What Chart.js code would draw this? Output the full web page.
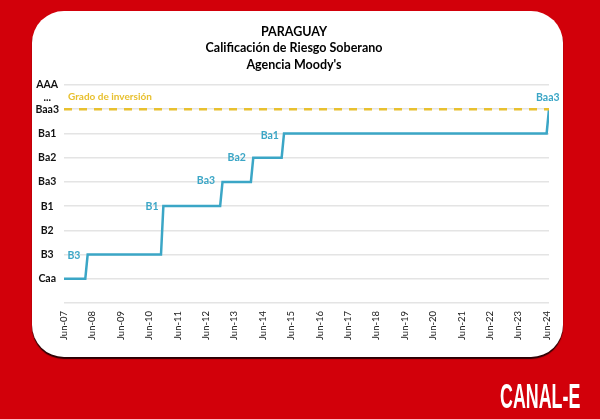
<!DOCTYPE html>
<html>
<head>
<meta charset="utf-8">
<title>Paraguay</title>
<script src="https://cdn.jsdelivr.net/npm/chart.js@4"></script>
<style>
  html, body { margin: 0; padding: 0; width: 600px; height: 419px; overflow: hidden; background: #d2000a; }
  .card { position: absolute; left: 32px; top: 11px; width: 531px; height: 346px; background: #fff; border-radius: 32px; box-shadow: 0 2px 1px #2a0004; }
  canvas { position: absolute; left: 0; top: 0; }
  .brand { position: absolute; left: 500px; top: 376px; color: #fff; font: bold 35px/40px "Liberation Sans", sans-serif; transform-origin: left top; transform: scaleX(0.51); white-space: nowrap; }
</style>
</head>
<body>
<div class="card"></div>
<canvas id="chart" width="588" height="419"></canvas>
<div class="brand">CANAL-E</div>
<script>
const titleLines = ['PARAGUAY', 'Calificación de Riesgo Soberano', "Agencia Moody's"];

// months since Jun-07 and rating level (Caa = 1 ... Baa3 = 8)
const months = [0, 9, 10, 41, 42, 66, 67, 79, 80, 92, 93, 204, 205];
const ratings = [1, 1, 2, 2, 4, 4, 5, 5, 6, 6, 7, 7, 8];

const investmentMonths = [0, 205];
const investmentLevel = [8, 8];

const yTickValues = [0, 1, 2, 3, 4, 5, 6, 7, 8, 8.5, 9];
const yTickLabels = ['', 'Caa', 'B3', 'B2', 'B1', 'Ba3', 'Ba2', 'Ba1', 'Baa3', '...', 'AAA'];
const xTickLabels = ['Jun-07', 'Jun-08', 'Jun-09', 'Jun-10', 'Jun-11', 'Jun-12', 'Jun-13', 'Jun-14', 'Jun-15',
  'Jun-16', 'Jun-17', 'Jun-18', 'Jun-19', 'Jun-20', 'Jun-21', 'Jun-22', 'Jun-23', 'Jun-24'];

// rating notes next to the steps
const noteTexts = ['B3', 'B1', 'Ba3', 'Ba2', 'Ba1', 'Baa3'];
const noteMonths = [4.2, 37.2, 60, 73, 87, 204.5];
const noteLevels = [1.96, 4, 5.04, 6, 6.92, 8.5];

const BLUE = '#3ba6c6';
const GOLD = '#e8c02f';
const FONT = 'Lato, "Open Sans", sans-serif';

const toPoints = (xs, ys) => xs.map((x, i) => ({ x, y: ys[i] }));

const notesPlugin = {
  id: 'notes',
  afterDatasetsDraw(chart) {
    const { ctx, scales } = chart;
    ctx.save();
    ctx.font = 'bold 10.5px ' + FONT;
    ctx.textBaseline = 'middle';
    ctx.textAlign = 'center';
    ctx.fillStyle = BLUE;
    noteTexts.forEach((text, i) => {
      ctx.fillText(text, scales.x.getPixelForValue(noteMonths[i]), scales.y.getPixelForValue(noteLevels[i]));
    });
    ctx.font = 'bold 10px ' + FONT;
    ctx.textAlign = 'left';
    ctx.fillStyle = GOLD;
    ctx.fillText('Grado de inversión', scales.x.getPixelForValue(1.7), scales.y.getPixelForValue(8.5));
    ctx.restore();
  },
};

new Chart(document.getElementById('chart'), {
  type: 'line',
  plugins: [notesPlugin],
  data: {
    datasets: [
      {
        data: toPoints(investmentMonths, investmentLevel),
        borderColor: GOLD,
        borderWidth: 2.5,
        borderDash: [8, 7],
        pointRadius: 0,
      },
      {
        data: toPoints(months, ratings),
        borderColor: BLUE,
        borderWidth: 2.5,
        pointRadius: 0,
        tension: 0,
      },
    ],
  },
  options: {
    responsive: false,
    animation: false,
    layout: { padding: 0 },
    plugins: {
      legend: { display: false },
      tooltip: { enabled: false },
      title: {
        display: true,
        text: titleLines,
        color: '#000',
        font: { family: FONT, size: 12.5, weight: 'bold', lineHeight: 1.32 },
        padding: { top: 23.5, bottom: 12 },
      },
    },
    scales: {
      x: {
        type: 'linear',
        min: 0,
        max: 205,
        grid: { display: false },
        border: { display: false },
        afterFit(scale) { scale.height = 116; },
        afterBuildTicks(scale) { scale.ticks = xTickLabels.map((_, i) => ({ value: i * 12 })); },
        ticks: {
          autoSkip: false,
          maxRotation: 90,
          minRotation: 90,
          padding: 0,
          color: '#222',
          font: { family: FONT, size: 9.5 },
          callback: (v) => xTickLabels[v / 12],
        },
      },
      y: {
        type: 'linear',
        min: 0,
        max: 9,
        border: { display: false },
        grid: {
          drawTicks: false,
          lineWidth: 1.5,
          color: (c) => (c.tick && c.tick.value === 8.5 ? 'transparent' : '#e4e4e4'),
        },
        afterFit(scale) { scale.width = 64; },
        afterBuildTicks(scale) { scale.ticks = yTickValues.map((value) => ({ value })); },
        ticks: {
          autoSkip: false,
          crossAlign: 'center',
          padding: 5,
          color: '#111',
          font: { family: FONT, size: 10.5, weight: 'bold' },
          callback: (v) => yTickLabels[yTickValues.indexOf(v)],
        },
      },
      spacer: {
        type: 'linear',
        position: 'right',
        grid: { display: false },
        border: { display: false },
        ticks: { display: false },
        afterFit(scale) { scale.width = 39; },
      },
    },
  },
});
</script>
</body>
</html>
